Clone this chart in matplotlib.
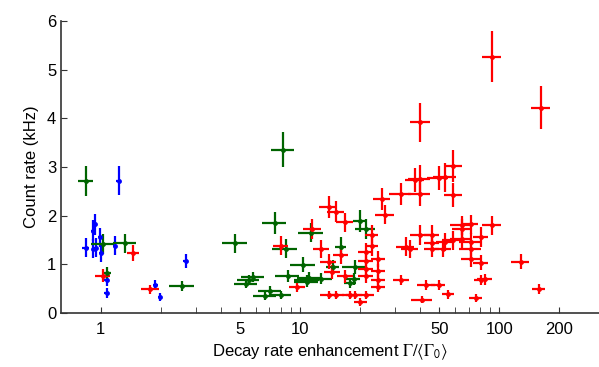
import matplotlib
matplotlib.use("Agg")
import matplotlib.pyplot as plt
from matplotlib.ticker import FixedLocator, NullFormatter

plt.rcParams["font.family"] = ["Liberation Sans", "DejaVu Sans"]
plt.rcParams["mathtext.fontset"] = "stix"

# blue group
blue_x = [1.23, 0.84, 0.92, 0.95, 0.91, 0.94, 0.99, 1.00, 1.18, 1.07, 1.07, 1.88, 1.99, 2.67]
blue_y = [2.72, 1.34, 1.32, 1.34, 1.69, 1.82, 1.55, 1.22, 1.38, 0.67, 0.40, 0.58, 0.33, 1.06]
blue_xerr = [0.03, 0.03, 0.02, 0.02, 0.02, 0.02, 0.02, 0.02, 0.03, 0.03, 0.03, 0.05, 0.05, 0.07]
blue_yerr = [0.30, 0.19, 0.19, 0.19, 0.21, 0.22, 0.2, 0.18, 0.19, 0.12, 0.1, 0.1, 0.08, 0.15]

# green group
green_x = [0.84, 1.03, 1.33, 1.07, 2.57, 4.73, 7.47, 8.23, 8.46, 10.4, 8.68, 5.82, 5.53, 5.37,
           7.1, 6.7, 8.05, 10.9, 11.1, 10.8, 12.8, 11.4, 16.0, 14.6, 18.9, 20.1, 21.4, 18.6, 17.9]
green_y = [2.71, 1.41, 1.43, 0.82, 0.55, 1.43, 1.84, 3.36, 1.32, 0.99, 0.76, 0.74, 0.68, 0.60,
           0.45, 0.34, 0.37, 0.67, 0.72, 0.63, 0.70, 1.65, 1.36, 0.95, 0.94, 1.89, 1.72, 0.70, 0.61]
green_xerr = [0.07, 0.14, 0.18, 0.06, 0.36, 0.66, 1.0, 1.1, 1.2, 1.5, 1.2, 0.75, 0.7, 0.7,
              0.95, 0.9, 1.0, 1.6, 1.5, 1.5, 1.6, 1.6, 1.0, 1.1, 2.6, 1.6, 2.5, 1.5, 1.2]
green_yerr = [0.31, 0.2, 0.2, 0.12, 0.1, 0.2, 0.23, 0.36, 0.2, 0.15, 0.12, 0.1, 0.1, 0.1,
              0.09, 0.08, 0.08, 0.1, 0.11, 0.1, 0.11, 0.2, 0.19, 0.14, 0.14, 0.22, 0.2, 0.12, 0.1]

# red group
red_x = [92, 162, 40.1, 58.6, 37.7, 40.0, 49.5, 53.6, 32.1, 40.0, 58.6, 25.7, 26.7,
         13.9, 15.2, 16.8, 11.5, 8.0, 12.8, 16.0, 13.9, 14.5, 16.9, 9.7,
         13.9, 15.2, 17.8, 18.8, 21.5, 20.1, 22.9, 22.9, 21.3, 21.3, 21.3, 21.3,
         24.7, 24.7, 24.7, 24.7, 32.1, 43.0, 49.5, 55.5, 41.1, 76.1, 80.7, 84.3,
         158, 128, 92, 64.6, 71.9, 64.6, 80.7, 40.2, 45.7, 33.9, 35.6, 45.7, 45.7,
         53.1, 52.4, 58.6, 64.6, 71.9, 71.9, 71.9, 80.7, 1.46, 1.03, 1.77]
red_y = [5.27, 4.22, 3.92, 3.03, 2.73, 2.75, 2.77, 2.79, 2.44, 2.44, 2.42, 2.34, 2.02,
         2.18, 2.08, 1.86, 1.72, 1.38, 1.31, 1.18, 1.05, 0.84, 0.75, 0.52,
         0.36, 0.36, 0.36, 0.36, 0.36, 0.22, 1.60, 1.37, 1.25, 1.06, 0.89, 0.75,
         1.11, 0.86, 0.68, 0.53, 0.67, 0.57, 0.57, 0.38, 0.27, 0.30, 0.67, 0.69,
         0.49, 1.05, 1.80, 1.80, 1.82, 1.72, 1.56, 1.60, 1.60, 1.36, 1.31, 1.43, 1.32,
         1.45, 1.32, 1.49, 1.51, 1.46, 1.31, 1.10, 1.03, 1.23, 0.76, 0.48]
red_xerr = [10, 18, 4.6, 6, 4, 5, 6, 7, 4, 5, 6, 2.5, 3,
            1.5, 1.5, 1.6, 1.2, 0.7, 1.2, 1.4, 1.3, 1.3, 1.5, 0.9,
            1.3, 1.4, 1.6, 1.7, 2.0, 1.5, 1.8, 1.8, 1.8, 1.8, 1.8, 1.8,
            2.0, 2.0, 2.0, 2.0, 3, 4.5, 4, 4, 5, 6, 6, 7,
            12, 13, 10, 8, 6, 7, 7, 4.5, 4, 3.5, 3.5, 4, 4,
            5, 5, 7, 8, 9, 9, 8, 7, 0.1, 0.09, 0.18]
red_yerr = [0.53, 0.44, 0.40, 0.33, 0.25, 0.3, 0.25, 0.3, 0.23, 0.25, 0.25, 0.22, 0.2,
            0.23, 0.22, 0.2, 0.2, 0.2, 0.18, 0.17, 0.16, 0.14, 0.13, 0.1,
            0.08, 0.08, 0.08, 0.08, 0.08, 0.08, 0.2, 0.2, 0.18, 0.16, 0.14, 0.13,
            0.17, 0.14, 0.12, 0.11, 0.11, 0.1, 0.1, 0.09, 0.08, 0.08, 0.11, 0.11,
            0.1, 0.15, 0.2, 0.2, 0.2, 0.2, 0.2, 0.2, 0.2, 0.19, 0.18, 0.19, 0.18,
            0.19, 0.18, 0.2, 0.2, 0.19, 0.18, 0.16, 0.16, 0.17, 0.13, 0.1]

groups = [
    (blue_x, blue_y, blue_xerr, blue_yerr, "#0000ff"),
    (green_x, green_y, green_xerr, green_yerr, "#006400"),
    (red_x, red_y, red_xerr, red_yerr, "#ff0000"),
]

fig = plt.figure(figsize=(5.99, 3.67), dpi=100)
ax = fig.add_axes([0.102, 0.148, 0.898, 0.794])

for gx, gy, gxe, gye, col in groups:
    ax.errorbar(gx, gy, xerr=gxe, yerr=gye, fmt="o", color=col, ms=3.5,
                elinewidth=1.6, capsize=0, mew=0)

ax.set_xscale("log")
ax.set_xlim(0.633, 316)
ax.set_ylim(0, 6)

ax.xaxis.set_major_locator(FixedLocator([1, 5, 10, 50, 100, 200]))
ax.xaxis.set_major_formatter(plt.FixedFormatter(["1", "5", "10", "50", "100", "200"]))
ax.xaxis.set_minor_locator(FixedLocator([2, 3, 4, 6, 7, 8, 9, 20, 30, 40, 60, 70, 80, 90]))
ax.xaxis.set_minor_formatter(NullFormatter())
ax.set_yticks([0, 1, 2, 3, 4, 5, 6])

ax.tick_params(which="both", direction="in", labelsize=12, color="#333333")
ax.tick_params(which="both", length=4)
ax.tick_params(axis="x", pad=7)

for side in ["top", "right"]:
    ax.spines[side].set_visible(False)
for side in ["left", "bottom"]:
    ax.spines[side].set_color("#333333")
    ax.spines[side].set_linewidth(1.2)

ax.set_ylabel("Count rate (kHz)", fontsize=12, labelpad=6)
ax.set_xlabel(r"Decay rate enhancement $\mathit{\Gamma}/\langle\mathit{\Gamma}_\mathsf{0}\rangle$",
              fontsize=12, labelpad=4)

fig.savefig("out.png", dpi=100)
